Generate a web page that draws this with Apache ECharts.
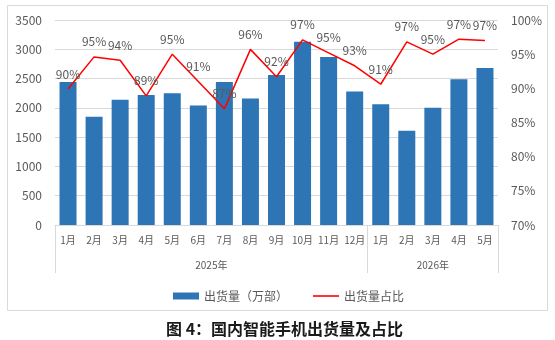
<!DOCTYPE html>
<html>
<head>
<meta charset="utf-8">
<script src="https://cdn.jsdelivr.net/npm/echarts@6/dist/echarts.min.js"></script>
<style>
  html, body { margin: 0; padding: 0; background: #fff; }
  #chart { width: 555px; height: 340px; }
</style>
</head>
<body>
<div id="chart"></div>
<script>
// data
var months = ['1月','2月','3月','4月','5月','6月','7月','8月','9月','10月','11月','12月','1月','2月','3月','4月','5月'];
var years = ['2025年', '2026年'];
var shipments = [2440, 1850, 2140, 2220, 2250, 2040, 2440, 2160, 2560, 3130, 2870, 2280, 2060, 1610, 2000, 2490, 2680];
var share = [89.9, 94.6, 94.1, 88.9, 95.0, 91.0, 87.0, 95.7, 91.7, 97.1, 95.2, 93.3, 90.6, 96.8, 95.0, 97.2, 97.0];
// where the year groups start / end (in category units)
var yearBounds = [0, 12, 17];
var yearCenters = [6, 14.5];

var gray = '#595959';
var chart = echarts.init(document.getElementById('chart'));

var option = {
  animation: false,
  textStyle: { fontFamily: 'Noto Sans CJK SC' },
  title: {
    text: '图 4：国内智能手机出货量及占比',
    left: 161,
    top: 316,
    textStyle: { fontSize: 16, fontWeight: 'bold', color: '#1a1a1a', fontFamily: 'Noto Sans CJK SC' }
  },
  graphic: [{
    type: 'rect',
    shape: { x: 7.5, y: 5.5, width: 540, height: 305 },
    style: { fill: 'none', stroke: '#d9d9d9', lineWidth: 1 },
    silent: true
  }],
  legend: {
    left: 168,
    top: 285,
    itemWidth: 26,
    itemHeight: 7,
    itemGap: 25,
    textStyle: { color: gray, fontSize: 12 },
    data: [
      { name: '出货量（万部）', icon: 'rect' },
      { name: '出货量占比', icon: 'path://M0,0H26V1.6H0Z' }
    ]
  },
  grid: { left: 55, right: 57, top: 20, bottom: 115 },
  xAxis: [
    {
      type: 'category',
      data: months,
      axisLine: { show: true, lineStyle: { color: '#d9d9d9' } },
      axisTick: { show: false },
      axisLabel: { color: gray, fontSize: 10, margin: 10, interval: 0 }
    },
    {
      type: 'value',
      position: 'bottom',
      min: 0,
      max: 17,
      axisLine: { show: false },
      splitLine: { show: false },
      axisTick: {
        show: true,
        length: 48,
        customValues: yearBounds,
        lineStyle: { color: '#d9d9d9' }
      },
      axisLabel: {
        customValues: yearCenters,
        color: gray,
        fontSize: 10,
        margin: 35,
        formatter: function (v) { return v < 12 ? years[0] : years[1]; }
      }
    }
  ],
  yAxis: [
    {
      type: 'value',
      min: 0,
      max: 3500,
      interval: 500,
      axisLine: { show: false },
      axisTick: { show: false },
      axisLabel: { color: gray, fontSize: 12, margin: 13, formatter: function (v) { return String(v); } },
      splitLine: { lineStyle: { color: '#d9d9d9' } }
    },
    {
      type: 'value',
      min: 70,
      max: 100,
      interval: 5,
      axisLine: { show: false },
      axisTick: { show: false },
      axisLabel: { color: gray, fontSize: 12, margin: 13, formatter: '{value}%' },
      splitLine: { show: false }
    }
  ],
  series: [
    {
      name: '出货量（万部）',
      type: 'bar',
      data: shipments,
      barWidth: 17,
      itemStyle: { color: '#2e75b6' }
    },
    {
      name: '出货量占比',
      type: 'line',
      yAxisIndex: 1,
      data: share,
      symbol: 'circle',
      symbolSize: 0.1,
      itemStyle: { color: '#ff0000' },
      lineStyle: { color: '#ff0000', width: 1.5 },
      label: {
        show: true,
        position: 'top',
        distance: 9,
        color: gray,
        fontSize: 12,
        formatter: function (p) { return Math.round(p.value) + '%'; }
      }
    }
  ]
};

chart.setOption(option);
</script>
</body>
</html>
